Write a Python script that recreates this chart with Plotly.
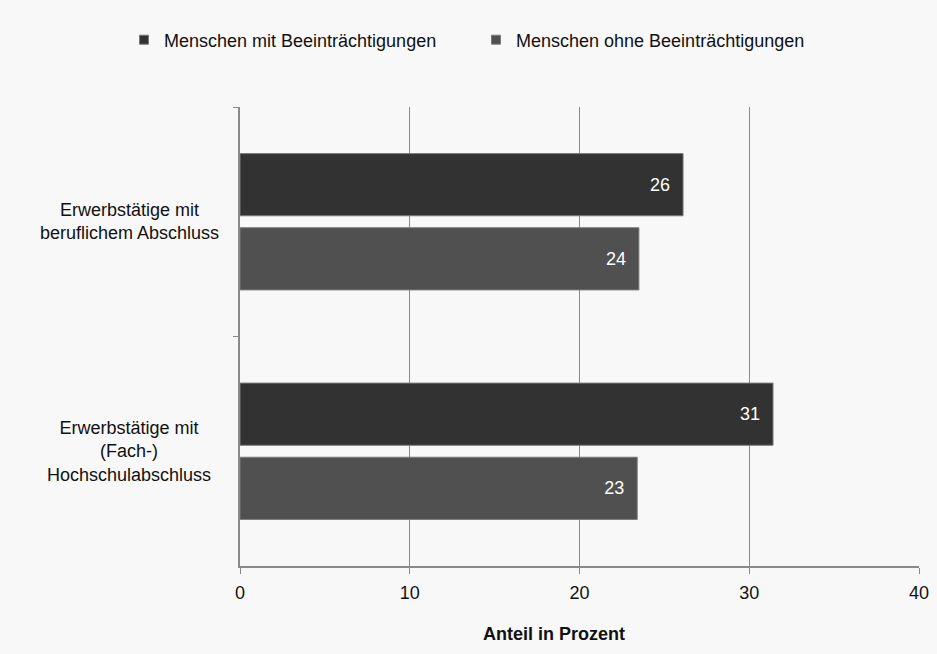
import plotly.graph_objects as go

categories = ["Erwerbstätige mit<br>beruflichem Abschluss",
              "Erwerbstätige mit<br>(Fach-)<br>Hochschulabschluss"]
series_names = ["Menschen mit Beeinträchtigungen", "Menschen ohne Beeinträchtigungen"]
values_mit = [26.1, 31.4]
values_ohne = [23.5, 23.4]
labels_mit = ["26", "31"]
labels_ohne = ["24", "23"]
x_ticks = [0, 10, 20, 30, 40]
x_title = "Anteil in Prozent"

colors = ["#323232", "#505050"]
FONT = "Liberation Sans, Arial, sans-serif"
FS = 18
pad = "\u00a0\u00a0"

# plot area in pixels
L, R, T, B = 240, 18, 107, 88
W, H = 937, 654
PW, PH = W - L - R, H - T - B

fig = go.Figure()
for name, vals, labs, col in [(series_names[0], values_mit, labels_mit, colors[0]),
                              (series_names[1], values_ohne, labels_ohne, colors[1])]:
    fig.add_trace(go.Bar(
        y=categories, x=vals, orientation="h", name=name,
        marker=dict(color=col, line=dict(color="#7a7a7a", width=1)),
        text=[l + pad for l in labs], textposition="inside", insidetextanchor="end",
        textfont=dict(color="white", size=FS, family=FONT),
        showlegend=False, hoverinfo="skip",
    ))
    fig.add_trace(go.Scatter(
        x=[None], y=[None], mode="markers", name=name,
        marker=dict(symbol="square", size=9, color=col, line=dict(color="#7a7a7a", width=1)),
    ))

for cat in categories:
    fig.add_annotation(x=(129 - L) / PW, xref="paper", y=cat, yref="y", text=cat,
                       showarrow=False, align="center", xanchor="center", yanchor="middle",
                       font=dict(size=FS, family=FONT, color="#111111"))

fig.add_annotation(x=(554 - L) / PW, xref="paper", y=(H - B - 634) / PH, yref="paper",
                   text="<b>" + x_title + "</b>",
                   showarrow=False, xanchor="center", yanchor="middle",
                   font=dict(size=FS, family=FONT, color="#111111"))

fig.update_layout(
    width=W, height=H,
    margin=dict(l=L, r=R, t=T, b=B, autoexpand=False),
    paper_bgcolor="#f8f8f8", plot_bgcolor="#f8f8f8",
    barmode="group", bargap=0.354, bargroupgap=0.161,
    font=dict(family=FONT, size=FS, color="#111111"),
    legend=dict(orientation="h", x=(124 - L) / PW, xanchor="left", y=(H - B - 40) / PH,
                yanchor="middle", font=dict(size=FS, family=FONT, color="#111111"), entrywidth=307,
                bgcolor="rgba(0,0,0,0)", itemwidth=30),
    xaxis=dict(range=[0, 40], tickvals=x_ticks, showgrid=True, gridcolor="#8a8a8a", gridwidth=1,
               showline=True, linecolor="#8a8a8a", linewidth=1.5, ticks="outside", ticklen=6,
               tickcolor="#8a8a8a", zeroline=False, tickfont=dict(size=FS, family=FONT),
               ticklabelstandoff=4, automargin=False, fixedrange=True),
    yaxis=dict(showline=True, linecolor="#8a8a8a", linewidth=1.5,
               ticks="outside", ticklen=5, tickcolor="#8a8a8a", tickson="boundaries",
               showticklabels=False, showgrid=False, automargin=False, fixedrange=True),
)
fig.update_yaxes(range=[1.5, -0.5], autorange=False)

fig.write_html("out.html")
